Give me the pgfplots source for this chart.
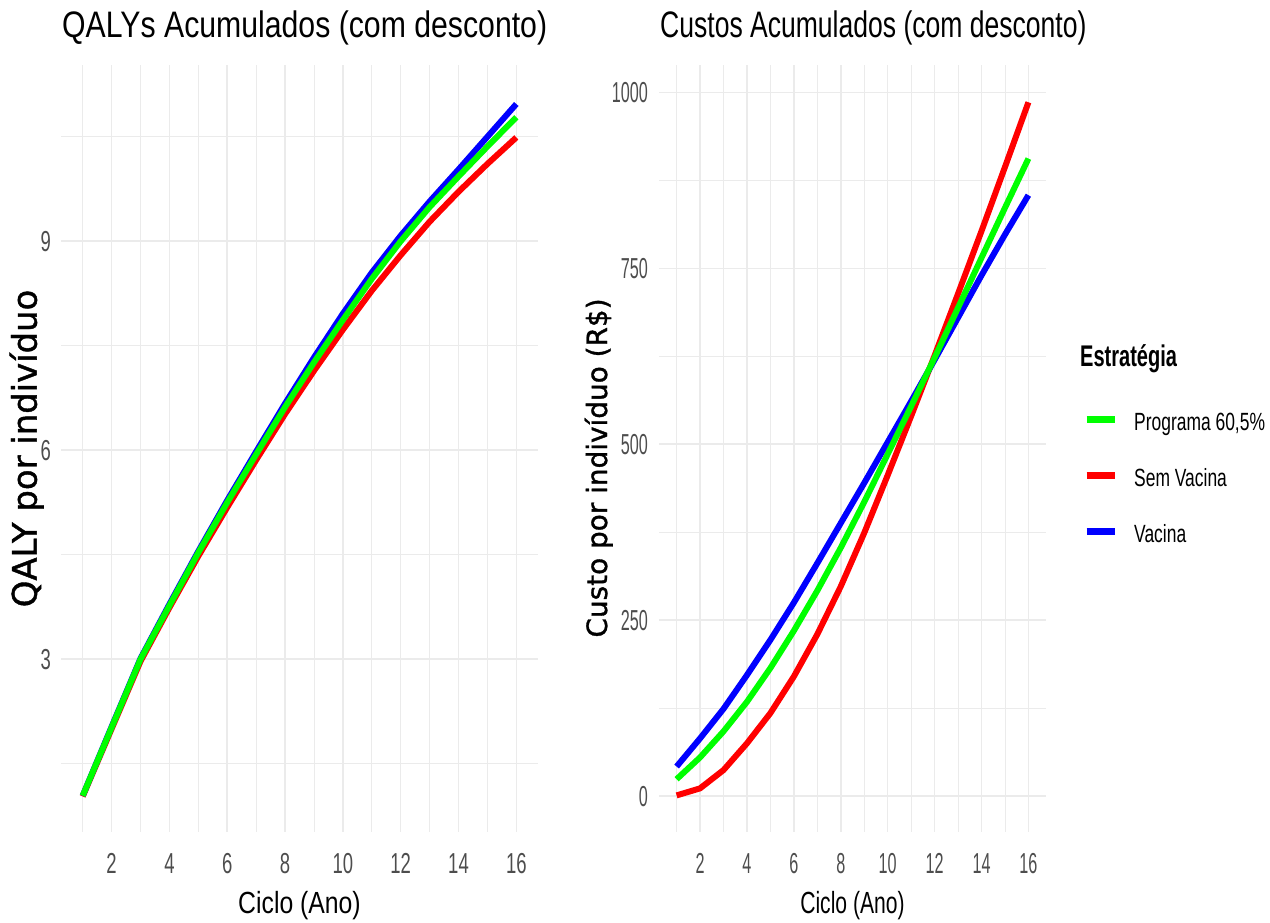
\documentclass[border=0pt]{standalone}
\usepackage{fontspec}
\usepackage{pgfplots}
\usepackage{pgfplotstable}
\pgfplotsset{compat=1.18}
\setmainfont{Liberation Sans}
\newfontfamily\titleL{Liberation Sans}[FakeStretch=0.82]
\newfontfamily\titleR{Liberation Sans}[FakeStretch=0.72]
\newfontfamily\tickL{Liberation Sans}[FakeStretch=0.64]
\newfontfamily\tickR{Liberation Sans}[FakeStretch=0.56]
\newfontfamily\labL{Liberation Sans}[FakeStretch=0.81]
\newfontfamily\labR{Liberation Sans}[FakeStretch=0.69]
\newfontfamily\legT{Liberation Sans}[FakeStretch=0.67]
\newfontfamily\legI{Liberation Sans}[FakeStretch=0.70]
\newfontfamily\ylab{DejaVu Sans}[FakeBold=1.2]
\definecolor{gridc}{HTML}{EBEBEB}
\definecolor{tickc}{HTML}{4D4D4D}

\pgfplotstableread{
x blue green red
1 1.04 1.04 1.03
2 2.03 2.02 2.00
3 3.01 3.00 2.97
4 3.79 3.77 3.74
5 4.55 4.53 4.48
6 5.28 5.25 5.18
7 5.98 5.94 5.86
8 6.67 6.62 6.52
9 7.33 7.26 7.14
10 7.96 7.87 7.73
11 8.55 8.46 8.29
12 9.08 9.00 8.80
13 9.57 9.49 9.28
14 10.03 9.93 9.71
15 10.50 10.36 10.11
16 10.97 10.78 10.49
}\qaly

\pgfplotstableread{
x blue green red
1 42 24 1
2 82 55 11
3 124 92 37
4 172 134 75
5 222 182 118
6 275 235 170
7 331 292 230
8 388 353 298
9 445 418 374
10 503 486 456
11 561 554 540
12 620 623 626
13 680 694 714
14 740 765 803
15 798 836 894
16 854 906 986
}\custos

\pgfplotsset{gg/.style={
  scale only axis, anchor=south west,
  axis line style={draw=none}, tick style={draw=none},
  major tick length=0pt, minor tick length=0pt,
  grid=both,
  major grid style={color=gridc, line width=1.6bp},
  minor grid style={color=gridc, line width=0.9bp},
  xmin=0.25, xmax=16.75,
  xtick={2,4,...,16}, minor xtick={1,3,...,15},
  /pgf/number format/assume math mode=true,
  /pgf/number format/1000 sep={},
  every axis plot/.append style={line width=6bp, line join=round},
}}

\begin{document}
\begin{tikzpicture}
\path[use as bounding box] (0,0) rectangle (1270bp,923bp);

\begin{axis}[gg, at={(61bp,91bp)}, width=477bp, height=767bp,
  ymin=0.52, ymax=11.53, ytick={3,6,9}, minor ytick={1.5,4.5,7.5,10.5},
  xticklabel style={anchor=base, yshift=-41bp, inner sep=0pt, text=tickc, font=\tickL\fontsize{29}{29}\selectfont},
  yticklabel style={anchor=base east, xshift=-10bp, yshift=-10.4bp, inner sep=0pt, text=tickc, font=\tickL\fontsize{29}{29}\selectfont},
]
\addplot[red, forget plot] table[x=x, y=red]{\qaly};
\addplot[blue, forget plot] table[x=x, y=blue]{\qaly};
\addplot[green, forget plot] table[x=x, y=green]{\qaly};
\end{axis}

\begin{axis}[gg, at={(659bp,91bp)}, width=387bp, height=767bp,
  ymin=-51, ymax=1039, ytick={0,250,500,750,1000}, minor ytick={125,375,625,875},
  xticklabel style={anchor=base, yshift=-41bp, inner sep=0pt, text=tickc, font=\tickR\fontsize{29}{29}\selectfont},
  yticklabel style={anchor=base east, xshift=-11bp, yshift=-10.4bp, inner sep=0pt, text=tickc, font=\tickR\fontsize{29}{29}\selectfont},
  legend image code/.code={\draw[line width=7bp] (0bp,2bp) -- (28bp,2bp);},
  legend cell align=left,
  legend style={at={(axis description cs:1.0956,0.5476)}, anchor=north west,
    draw=none, fill=none, inner sep=0pt, row sep=38bp,
    font=\legI\fontsize{25}{25}\selectfont,
    nodes={inner sep=0pt, text height=18bp, text depth=0bp},
    /tikz/every odd column/.append style={column sep=16bp}},
]
\addplot[red, forget plot] table[x=x, y=red]{\custos};
\addplot[blue, forget plot] table[x=x, y=blue]{\custos};
\addplot[green, forget plot] table[x=x, y=green]{\custos};
\addlegendimage{green}\addlegendentry{Programa 60,5\%}
\addlegendimage{red}\addlegendentry{Sem Vacina}
\addlegendimage{blue}\addlegendentry{Vacina}
\end{axis}

% titles
\node[anchor=base west, inner sep=0pt, font=\titleL\fontsize{37}{37}\selectfont] at (62bp,885bp) {QALYs Acumulados (com desconto)};
\node[anchor=base west, inner sep=0pt, font=\titleR\fontsize{37}{37}\selectfont] at (660bp,885bp) {Custos Acumulados (com desconto)};
% x labels
\node[anchor=base, inner sep=0pt, font=\labL\fontsize{30.7}{30.7}\selectfont] at (299.5bp,10bp) {Ciclo (Ano)};
\node[anchor=base, inner sep=0pt, font=\labR\fontsize{30.7}{30.7}\selectfont] at (852.5bp,10bp) {Ciclo (Ano)};
% y labels
\node[rotate=90, anchor=base, inner sep=0pt, font=\ylab\fontsize{34}{34}\selectfont] at (36.7bp,474.5bp) {QALY por indivíduo};
\node[rotate=90, anchor=base, inner sep=0pt, font=\ylab\fontsize{28}{28}\selectfont] at (607bp,455bp) {Custo por indivíduo (R\$)};
% legend title
\node[anchor=base west, inner sep=0pt, font=\legT\bfseries\fontsize{30}{30}\selectfont] at (1080bp,556.3bp) {Estratégia};
\end{tikzpicture}
\end{document}
